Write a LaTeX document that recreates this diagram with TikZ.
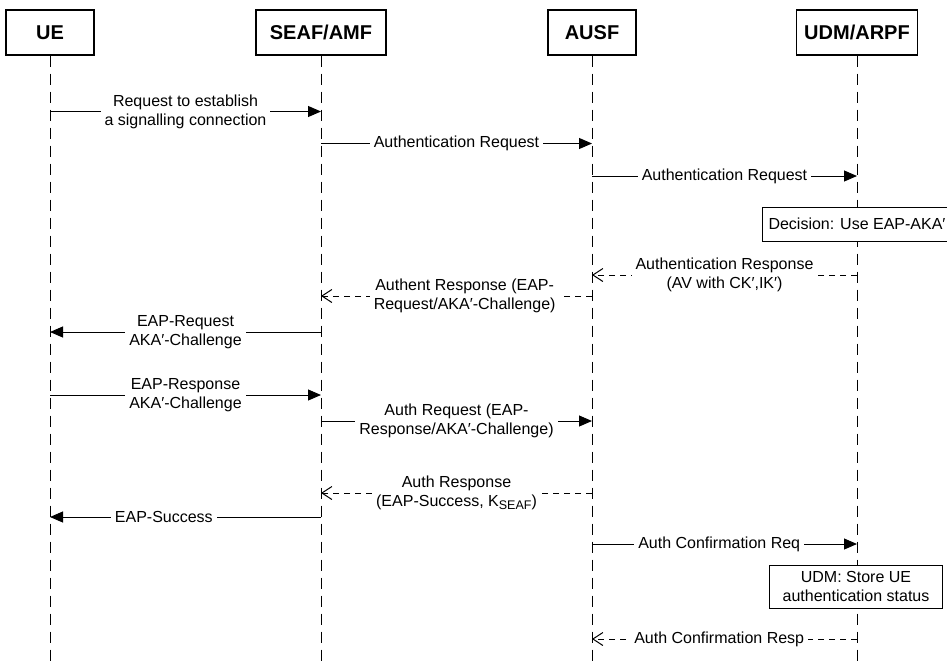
\documentclass[tikz,border=0pt]{standalone}
\usepackage{fontspec}
\setmainfont{Liberation Sans}
\usetikzlibrary{arrows.meta}
\begin{document}
\begin{tikzpicture}[x=1pt,y=-1pt,
  actor/.style={draw, line width=1.1pt, minimum height=45pt, inner sep=0pt,
    font=\bfseries\fontsize{20}{24}\selectfont},
  lifeline/.style={line width=1pt, dash pattern=on 11pt off 7pt},
  req/.style={line width=1pt, -{Triangle[length=13pt,width=11pt]}},
  resp/.style={line width=1pt, dash pattern=on 6pt off 5pt,
    -{Straight Barb[length=10pt,width=13pt,line width=1pt]}},
  lbl/.style={fill=white, inner xsep=4pt, inner ysep=1pt, align=center,
    font=\fontsize{16}{19}\selectfont},
  note/.style={draw, line width=1pt, fill=white, align=center, inner sep=0pt,
    font=\fontsize{16}{19}\selectfont},
]
\useasboundingbox (0,0) rectangle (947,662);
\fill[white] (0,0) rectangle (947,662);

% participants
\node[actor, minimum width=88pt]  (ue)   at (50,32.5)  {UE};
\node[actor, minimum width=130pt] (seaf) at (321,32.5) {SEAF/AMF};
\node[actor, minimum width=88pt]  (ausf) at (592,32.5) {AUSF};
\node[actor, minimum width=121pt] (udm)  at (857,32.5) {UDM/ARPF};

% lifelines
\coordinate (ueEnd)   at (50,662);
\coordinate (seafEnd) at (321,662);
\coordinate (ausfEnd) at (592,662);
\coordinate (udmEnd)  at (857,662);
\draw[lifeline] (ue.south)   -- (ueEnd);
\draw[lifeline] (seaf.south) -- (seafEnd);
\draw[lifeline] (ausf.south) -- (ausfEnd);
\draw[lifeline] (udm.south)  -- (udmEnd);

% message rows
\coordinate (r1)  at (0,111.5);
\coordinate (r2)  at (0,143.5);
\coordinate (r3)  at (0,176);
\coordinate (r4)  at (0,275);
\coordinate (r5)  at (0,296);
\coordinate (r6)  at (0,332);
\coordinate (r7)  at (0,395);
\coordinate (r8)  at (0,421);
\coordinate (r9)  at (0,493);
\coordinate (r10) at (0,517);
\coordinate (r11) at (0,544);
\coordinate (r12) at (0,639);

% messages
\draw[req] (ue |- r1) -- node[lbl] {Request to establish\\a signalling connection} (seaf |- r1);
\draw[req] (seaf |- r2) -- node[lbl] {Authentication Request} (ausf |- r2);
\draw[req] (ausf |- r3) -- node[lbl] {Authentication Request} (udm |- r3);

% decision note (runs off the right edge)
\node[note, minimum width=190pt, minimum height=34pt] (dec) at (857,224) {Decision: Use EAP-AKA′};

\draw[resp] (udm |- r4) -- node[lbl] {Authentication Response\\(AV with CK′,IK′)} (ausf |- r4);
\draw[resp] (ausf |- r5) -- node[lbl, pos=0.47] {Authent Response (EAP-\\Request/AKA′-Challenge)} (seaf |- r5);
\draw[req] (seaf |- r6) -- node[lbl] {EAP-Request\\AKA′-Challenge} (ue |- r6);
\draw[req] (ue |- r7) -- node[lbl] {EAP-Response\\AKA′-Challenge} (seaf |- r7);
\draw[req] (seaf |- r8) -- node[lbl] {Auth Request (EAP-\\Response/AKA′-Challenge)} (ausf |- r8);
\draw[resp] (ausf |- r9) -- node[lbl] {Auth Response\\(EAP-Success, K\raisebox{-0.35ex}{\fontsize{12.5}{12.5}\selectfont SEAF})} (seaf |- r9);
\draw[req] (seaf |- r10) -- node[lbl, pos=0.58] {EAP-Success} (ue |- r10);
\draw[req] (ausf |- r11) -- node[lbl, pos=0.48] {Auth Confirmation Req} (udm |- r11);

\node[note, minimum width=173pt, minimum height=43pt] (store) at (856,586.5) {UDM: Store UE\\authentication status};

\draw[resp] (udm |- r12) -- node[lbl, pos=0.52] {Auth Confirmation Resp} (ausf |- r12);
\end{tikzpicture}
\end{document}
